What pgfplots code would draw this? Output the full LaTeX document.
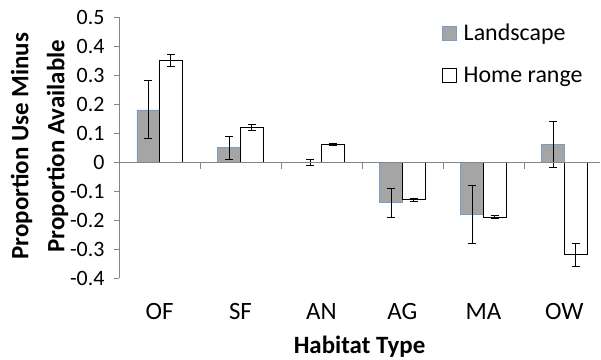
\documentclass[border=0pt]{standalone}
\usepackage{pgfplots}
\pgfplotsset{compat=1.18}
\usepackage{fontspec}
\setmainfont{Carlito}
\definecolor{lsfill}{HTML}{A5A5A5}
\definecolor{lsedge}{HTML}{7A9CCB}
\definecolor{axgray}{HTML}{868686}
\begin{document}
\begin{tikzpicture}
\begin{axis}[
  scale only axis, width=481bp, height=261bp,
  xmin=-0.5, xmax=5.44, ymin=-0.4, ymax=0.5,
  ybar, bar width=0.28,
  axis lines*=left,
  x axis line style={draw=none},
  y axis line style={axgray, line width=0.75bp},
  ytick={-0.4,-0.3,-0.2,-0.1,0,0.1,0.2,0.3,0.4,0.5},
  yticklabels={-0.4,-0.3,-0.2,-0.1,0,0.1,0.2,0.3,0.4,0.5},
  ytick style={axgray, line width=0.75bp},
  tick align=outside, major tick length=5bp,
  xtick={0,1,2,3,4,5}, xticklabels={OF,SF,AN,AG,MA,OW},
  xtick style={draw=none},
  yticklabel style={font=\fontsize{22}{24}\selectfont, xshift=-6bp},
  xticklabel style={font=\fontsize{25}{28}\selectfont, yshift=-17bp},
  ylabel={Proportion Use Minus\\[5bp]Proportion Available},
  ylabel style={align=center, font=\fontsize{25}{31}\selectfont\bfseries,
    at={(axis description cs:-0.165,0.505)}, anchor=center},
  xlabel={Habitat Type},
  xlabel style={font=\fontsize{25}{28}\selectfont\bfseries,
    at={(axis description cs:0.5,-0.262)}, anchor=center},
  legend cell align=left,
  legend image code/.code={\draw[#1] (0bp,-7bp) rectangle (14bp,7bp); \path (19bp,0bp);},
  legend style={draw=none, fill=none, at={(axis description cs:0.665,0.99)},
    anchor=north west, font=\fontsize{24}{27}\selectfont, row sep=21bp},
  clip=false,
]
\addplot[bar shift=-0.14, fill=lsfill, draw=lsedge, line width=0.6bp,
  error bars/.cd, y dir=both, y explicit,
  error bar style={black, line width=0.7bp},
  error mark options={rotate=90, mark size=4bp, black, line width=0.7bp}]
coordinates {
 (0,0.18) +- (0,0.10)
 (1,0.05) +- (0,0.04)
 (2,0.0) +- (0,0.01)
 (3,-0.14) +- (0,0.05)
 (4,-0.18) +- (0,0.10)
 (5,0.06) +- (0,0.08)
};
\addlegendentry{Landscape}
\addplot[bar shift=0.14, fill=white, draw=black, line width=0.7bp,
  error bars/.cd, y dir=both, y explicit,
  error bar style={black, line width=0.7bp},
  error mark options={rotate=90, mark size=4bp, black, line width=0.7bp}]
coordinates {
 (0,0.35) +- (0,0.02)
 (1,0.12) +- (0,0.01)
 (2,0.06) +- (0,0.004)
 (3,-0.13) +- (0,0.006)
 (4,-0.19) +- (0,0.005)
 (5,-0.32) +- (0,0.04)
};
\addlegendentry{Home range}
\draw[axgray, line width=0.75bp] (axis cs:-0.5,0) -- (axis cs:5.44,0);
\pgfplotsinvokeforeach{0.5,1.5,2.5,3.5,4.5}{
  \draw[axgray, line width=0.75bp] (axis cs:#1,0) -- ([yshift=-7bp]axis cs:#1,0);
}
\end{axis}
\pgfresetboundingbox
\path[use as bounding box] ([xshift=-119bp,yshift=-82bp]current axis.south west) rectangle ++(601bp,360bp);
\end{tikzpicture}
\end{document}
